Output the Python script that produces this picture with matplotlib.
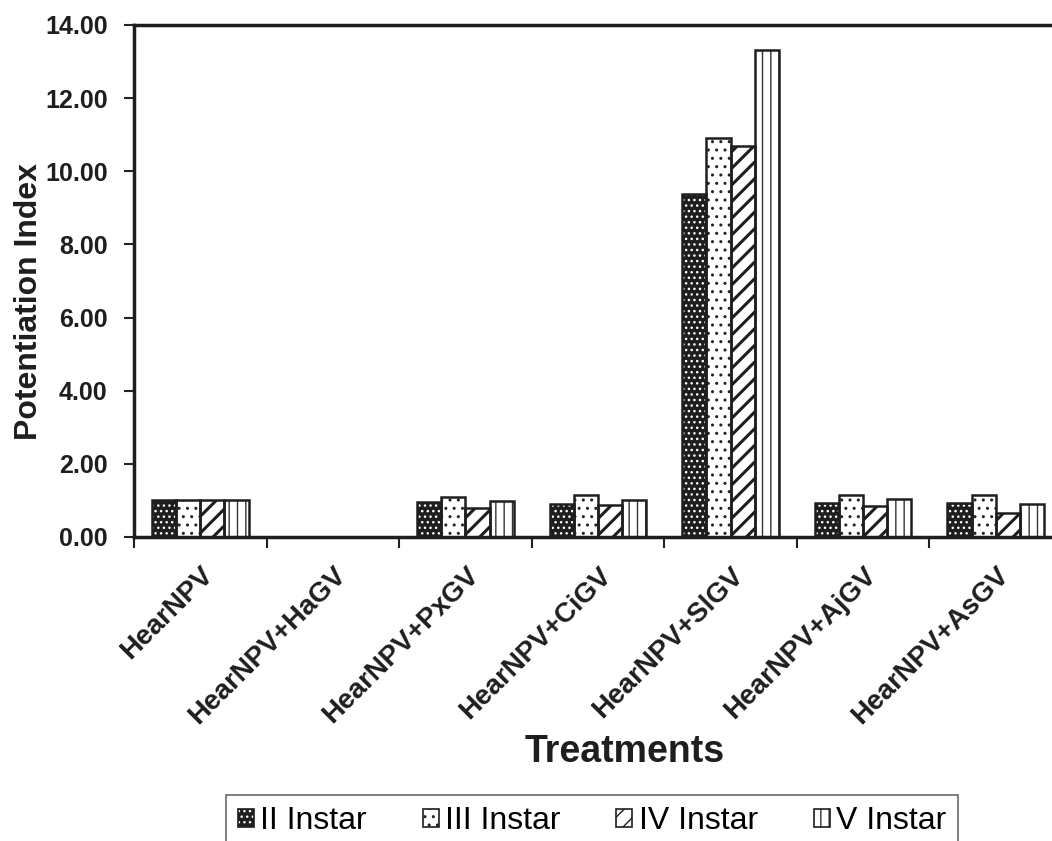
import numpy as np
import matplotlib
matplotlib.use("Agg")
import matplotlib.pyplot as plt
from matplotlib.patches import Patch

plt.rcParams["font.family"] = ["Liberation Sans", "DejaVu Sans"]

# =========================
# Data
# =========================

treatments = ["HearNPV", "HearNPV+HaGV", "HearNPV+PxGV", "HearNPV+CiGV",
              "HearNPV+SlGV", "HearNPV+AjGV", "HearNPV+AsGV"]
instars = ["II Instar", "III Instar", "IV Instar", "V Instar"]

ii_instar = [1.00, 0.0, 0.95, 0.90, 9.38, 0.93, 0.93]
iii_instar = [1.00, 0.0, 1.09, 1.15, 10.92, 1.15, 1.15]
iv_instar = [1.00, 0.0, 0.79, 0.88, 10.70, 0.85, 0.65]
v_instar = [1.00, 0.0, 0.98, 1.02, 13.32, 1.05, 0.90]

series = [ii_instar, iii_instar, iv_instar, v_instar]

# face colour, hatch colour, hatch pattern, hatch linewidth
styles = [
    ("#1e1e1e", "white", "...", 1.0),
    ("white", "#222222", "..", 1.0),
    ("white", "#1e1e1e", "//", 2.2),
    ("white", "#333333", "||", 1.0),
]

# =========================
# Figure
# =========================

W, H = 1052, 841
fig = plt.figure(figsize=(W / 100, H / 100), dpi=100)
ax = fig.add_axes([134 / W, 1 - 537 / H, 928 / W, (537 - 25) / H])

x = np.arange(len(treatments))
bw = 0.182
handles = []
for i, (vals, (fc, hc, hatch, hlw)) in enumerate(zip(series, styles)):
    pos = x + (i - 1.5) * bw
    # hatched fill first, then a plain black outline on top
    with plt.rc_context({"hatch.linewidth": hlw}):
        ax.bar(pos, vals, bw, facecolor=fc, edgecolor=hc, hatch=hatch,
               linewidth=0, zorder=2)
        h1 = Patch(facecolor=fc, edgecolor=hc, hatch=hatch, linewidth=0)
    ax.bar(pos, vals, bw, facecolor="none", edgecolor="#1e1e1e",
           linewidth=1.8, zorder=3)
    h2 = Patch(facecolor="none", edgecolor="#1e1e1e", linewidth=1.2)
    handles.append((h1, h2))

ax.set_xlim(-0.5, len(treatments) - 0.5)
ax.set_ylim(0, 14)
yt = np.arange(0, 14.1, 2)
ax.set_yticks(yt)
ax.set_yticklabels([f"{v:.2f}" for v in yt],
                   fontsize=18, fontweight="bold", color="#1e1e1e")

# ticks at group boundaries, labels at centres
ax.set_xticks(np.arange(len(treatments) + 1) - 0.5)
ax.set_xticklabels([])
ax.set_xticks(x, minor=True)
ax.set_xticklabels(treatments, minor=True, rotation=45, ha="right",
                   va="top", rotation_mode="anchor", fontsize=20,
                   fontweight="bold", color="#1e1e1e")
ax.tick_params(axis="x", which="minor", length=0, pad=18)
ax.tick_params(axis="x", which="major", length=8, width=1.5,
               direction="out", color="#222222")
ax.tick_params(axis="y", length=7, width=1.5, direction="out",
               color="#222222", pad=12)

for side in ["left", "top", "bottom"]:
    ax.spines[side].set_linewidth(2.5)
    ax.spines[side].set_color("#1e1e1e")
ax.spines["right"].set_visible(False)

ax.set_ylabel("Potentiation Index", fontsize=23, fontweight="bold",
              color="#1e1e1e")
ax.yaxis.set_label_coords(-0.097, 0.46)
fig.text(625 / W, 1 - 752 / H, "Treatments", fontsize=27,
         fontweight="bold", color="#1e1e1e", ha="center", va="center")

leg = fig.legend(handles, instars, ncol=4, loc="upper center",
                 bbox_to_anchor=(592 / W, 1 - 795 / H), frameon=True,
                 fancybox=False, fontsize=23, handlelength=0.5,
                 handleheight=0.5, handletextpad=0.2, columnspacing=1.75,
                 borderpad=0.35, borderaxespad=0)
leg.get_frame().set_edgecolor("#444444")
leg.get_frame().set_linewidth(1.2)

fig.savefig("out.png", dpi=100)
